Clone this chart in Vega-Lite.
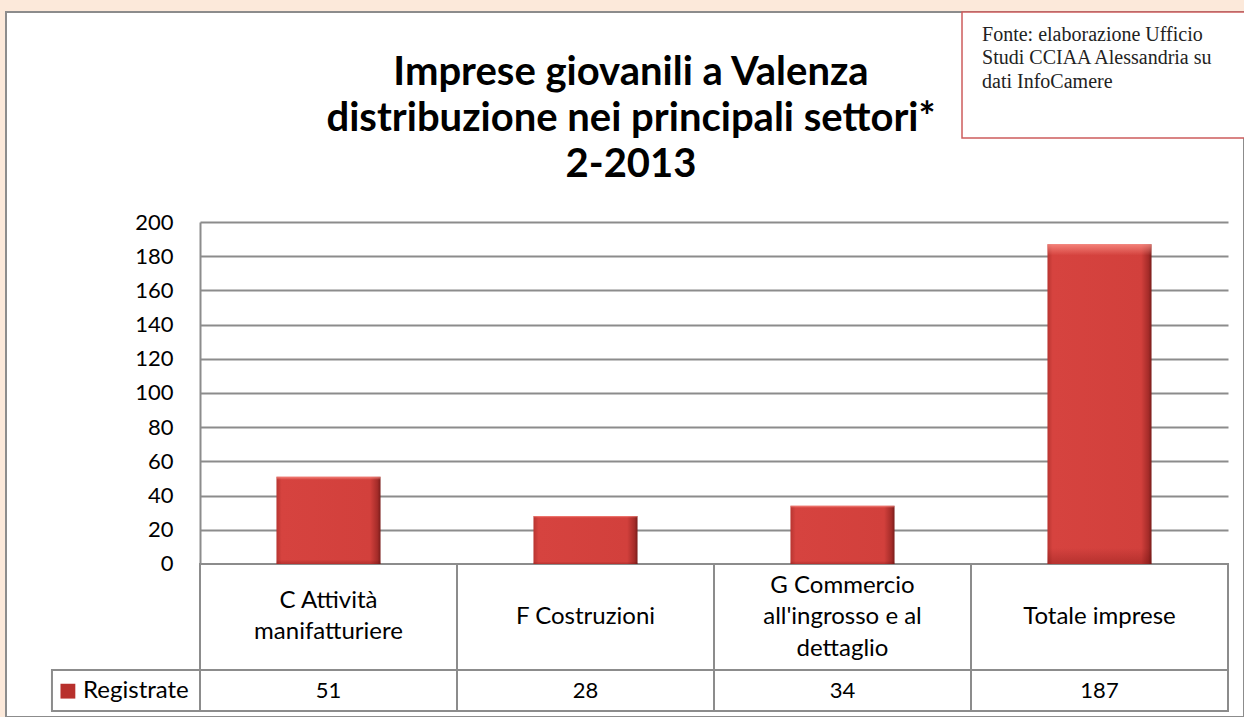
{
  "$schema": "https://vega.github.io/schema/vega-lite/v6.json",
  "width": 1238,
  "height": 705,
  "autosize": {"type": "none"},
  "padding": {"left": 6, "top": 12, "right": 0, "bottom": 0},
  "background": "#FCE9DA",
  "config": {
    "view": {"fill": "white", "stroke": "#8C8C8C", "strokeWidth": 2},
    "font": "Lato"
  },
  "title": {
    "text": ["Imprese giovanili a Valenza", "distribuzione nei principali settori*", "2-2013"],
    "font": "Lato",
    "fontSize": 40,
    "fontWeight": "bold",
    "color": "black",
    "lineHeight": 46,
    "anchor": "middle",
    "frame": "group",
    "baseline": "top",
    "offset": -174,
    "dx": 6
  },
  "datasets": {
    "settori": [
      {"settore": "C Attività\nmanifatturiere", "registrate": 51},
      {"settore": "F Costruzioni", "registrate": 28},
      {"settore": "G Commercio\nall'ingrosso e al\ndettaglio", "registrate": 34},
      {"settore": "Totale imprese", "registrate": 187}
    ],
    "serie": [{"serie": "Registrate"}],
    "fonte": [{"fonte": "Fonte: elaborazione Ufficio\nStudi CCIAA Alessandria su\ndati InfoCamere"}]
  },
  "data": {"name": "settori"},
  "layer": [
    {
      "mark": {"type": "rect", "fill": "white", "stroke": "#8C8C8C", "strokeWidth": 2},
      "encoding": {
        "x": {
          "field": "settore",
          "type": "nominal",
          "sort": null,
          "scale": {
            "type": "band",
            "domain": ["C Attività\nmanifatturiere", "F Costruzioni", "G Commercio\nall'ingrosso e al\ndettaglio", "Totale imprese"],
            "range": [194, 1222],
            "paddingInner": 0,
            "paddingOuter": 0
          },
          "axis": null
        },
        "y": {
          "datum": 0,
          "type": "quantitative",
          "scale": {"domain": [-86, 200], "range": [699, 210], "nice": false, "zero": false},
          "axis": {
            "values": [0, 20, 40, 60, 80, 100, 120, 140, 160, 180, 200],
            "grid": true,
            "gridColor": "#8C8C8C",
            "gridWidth": 2,
            "ticks": false,
            "domain": true,
            "domainColor": "#8C8C8C",
            "domainWidth": 2,
            "labelFont": "Lato",
            "labelFontSize": 22,
            "labelColor": "black",
            "labelPadding": 27,
            "title": null,
            "offset": -194
          }
        },
        "y2": {"datum": -62}
      }
    },
    {
      "mark": {"type": "rect", "fill": "white", "stroke": "#8C8C8C", "strokeWidth": 2},
      "encoding": {
        "x": {"field": "settore", "type": "nominal", "sort": null, "axis": null},
        "y": {"datum": -62, "type": "quantitative"},
        "y2": {"datum": -86}
      }
    },
    {
      "data": {"name": "serie"},
      "mark": {"type": "rect", "fill": "white", "stroke": "#8C8C8C", "strokeWidth": 2},
      "encoding": {
        "x": {"datum": "C Attività\nmanifatturiere", "bandPosition": -0.576, "axis": null},
        "x2": {"datum": "C Attività\nmanifatturiere", "bandPosition": 0},
        "y": {"datum": -62, "type": "quantitative"},
        "y2": {"datum": -86}
      }
    },
    {
      "mark": {
        "type": "bar",
        "width": {"band": 0.405},
        "fill": {
          "gradient": "linear",
          "x1": 0, "x2": 1, "y1": 0, "y2": 0,
          "stops": [
            {"offset": 0, "color": "#B83531"},
            {"offset": 0.05, "color": "#D6433F"},
            {"offset": 0.9, "color": "#D2403C"},
            {"offset": 0.97, "color": "#A52C29"},
            {"offset": 1, "color": "#7A1D1B"}
          ]
        }
      },
      "encoding": {
        "x": {"field": "settore", "type": "nominal", "sort": null, "axis": null},
        "y": {
          "field": "registrate",
          "type": "quantitative",
          "axis": {
            "values": [0, 20, 40, 60, 80, 100, 120, 140, 160, 180, 200],
            "grid": true,
            "gridColor": "#8C8C8C",
            "gridWidth": 2,
            "ticks": false,
            "domain": true,
            "domainColor": "#8C8C8C",
            "domainWidth": 2,
            "labelFont": "Lato",
            "labelFontSize": 22,
            "labelColor": "black",
            "labelPadding": 27,
            "title": null,
            "offset": -194
          }
        },
        "y2": {"datum": 0}
      }
    },
    {
      "mark": {
        "type": "bar",
        "width": {"band": 0.405},
        "fill": {
          "gradient": "linear",
          "x1": 0, "x2": 0, "y1": 0, "y2": 1,
          "stops": [
            {"offset": 0, "color": "rgba(255,150,140,0.75)"},
            {"offset": 0.035, "color": "rgba(255,150,140,0.0)"},
            {"offset": 0.95, "color": "rgba(90,0,0,0.0)"},
            {"offset": 1, "color": "rgba(90,0,0,0.25)"}
          ]
        }
      },
      "encoding": {
        "x": {"field": "settore", "type": "nominal", "sort": null, "axis": null},
        "y": {"field": "registrate", "type": "quantitative"},
        "y2": {"datum": 0}
      }
    },
    {
      "transform": [{"filter": "length(split(datum.settore, '\\n')) == 1"}],
      "mark": {"type": "text", "lineBreak": "\n", "fontSize": 24, "fontWeight": "normal", "lineHeight": 31.5, "baseline": "middle", "align": "center", "color": "black"},
      "encoding": {
        "x": {"field": "settore", "type": "nominal", "sort": null, "axis": null},
        "y": {"datum": -31, "type": "quantitative"},
        "text": {"field": "settore"}
      }
    },
    {
      "transform": [{"filter": "length(split(datum.settore, '\\n')) == 2"}],
      "mark": {"type": "text", "lineBreak": "\n", "fontSize": 24, "fontWeight": "normal", "lineHeight": 31.5, "baseline": "middle", "align": "center", "color": "black"},
      "encoding": {
        "x": {"field": "settore", "type": "nominal", "sort": null, "axis": null},
        "y": {"datum": -21.5, "type": "quantitative"},
        "text": {"field": "settore"}
      }
    },
    {
      "transform": [{"filter": "length(split(datum.settore, '\\n')) == 3"}],
      "mark": {"type": "text", "lineBreak": "\n", "fontSize": 24, "fontWeight": "normal", "lineHeight": 31.5, "baseline": "middle", "align": "center", "color": "black"},
      "encoding": {
        "x": {"field": "settore", "type": "nominal", "sort": null, "axis": null},
        "y": {"datum": -12.6, "type": "quantitative"},
        "text": {"field": "settore"}
      }
    },
    {
      "mark": {"type": "text", "fontSize": 22, "fontWeight": "normal", "baseline": "middle", "align": "center", "color": "black"},
      "encoding": {
        "x": {"field": "settore", "type": "nominal", "sort": null, "axis": null},
        "y": {"datum": -74.4, "type": "quantitative"},
        "text": {"field": "registrate", "type": "quantitative"}
      }
    },
    {
      "data": {"name": "serie"},
      "mark": {"type": "point", "shape": "square", "filled": true, "size": 220, "color": "#B8302C", "opacity": 1},
      "encoding": {
        "x": {"datum": "C Attività\nmanifatturiere", "bandPosition": -0.514, "axis": null},
        "y": {"datum": -74.4, "type": "quantitative"}
      }
    },
    {
      "data": {"name": "serie"},
      "mark": {"type": "text", "fontSize": 24, "fontWeight": "normal", "baseline": "middle", "align": "left", "color": "black"},
      "encoding": {
        "x": {"datum": "C Attività\nmanifatturiere", "bandPosition": -0.455, "axis": null},
        "y": {"datum": -74.4, "type": "quantitative"},
        "text": {"field": "serie"}
      }
    },
    {
      "data": {"name": "fonte"},
      "mark": {"type": "rect", "fill": "white", "stroke": "#CD5C5C", "strokeWidth": 1.5},
      "encoding": {
        "x": {"datum": "Totale imprese", "bandPosition": -0.035, "axis": null},
        "x2": {"datum": "Totale imprese", "bandPosition": 1.1},
        "y": {"datum": 322.8, "type": "quantitative"},
        "y2": {"datum": 249.2}
      }
    },
    {
      "data": {"name": "fonte"},
      "mark": {"type": "text", "lineBreak": "\n", "font": "Liberation Serif", "fontSize": 20, "fontWeight": "normal", "lineHeight": 23.5, "baseline": "alphabetic", "align": "left", "color": "#222222"},
      "encoding": {
        "x": {"datum": "Totale imprese", "bandPosition": 0.043, "axis": null},
        "y": {"datum": 305.9, "type": "quantitative"},
        "text": {"field": "fonte"}
      }
    }
  ]
}
